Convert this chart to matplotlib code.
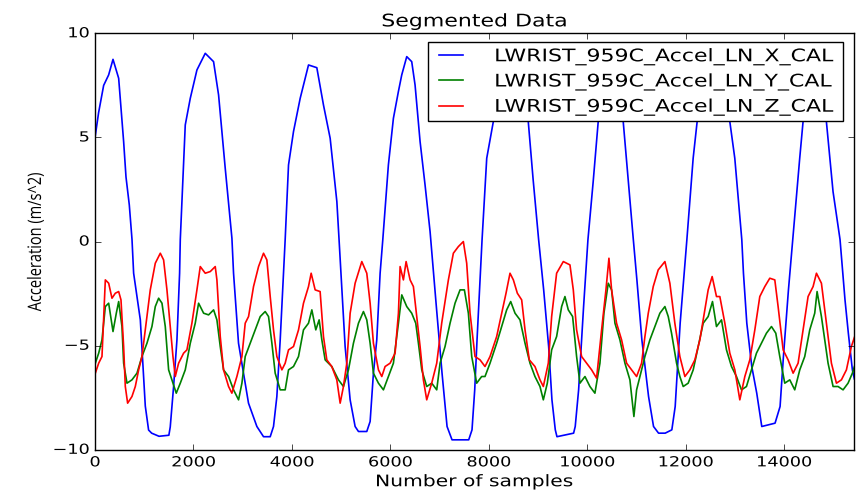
import matplotlib
matplotlib.use("Agg")
from matplotlib import pyplot as plt
from matplotlib import patheffects
from matplotlib.transforms import Affine2D

# values (sample index, m/s^2)
x_idx = [0, 73, 175, 276, 365, 480, 581, 629, 696, 751, 784, 920, 1021, 1088, 1150, 1300, 1500,
         1528, 1596, 1664, 1718, 1732, 1833, 1935, 2070, 2239, 2408, 2510, 2645, 2781, 2814, 2915,
         3017, 3118, 3288, 3423, 3559, 3626, 3694, 3762, 3829, 3863, 3931, 4032, 4168, 4337, 4506,
         4641, 4777, 4913, 4960, 5081, 5183, 5284, 5352, 5521, 5589, 5656, 5724, 5792, 5846, 5960,
         6062, 6163, 6231, 6333, 6434, 6502, 6604, 6705, 6807, 6930, 7050, 7152, 7253, 7592, 7659,
         7714, 7761, 7863, 7958, 8092, 8250, 8450, 8650, 8802, 8900, 9013, 9115, 9216, 9283, 9351,
         9385, 9723, 9756, 9825, 9926, 10014, 10121, 10223, 10330, 10450, 10600, 10731, 10934,
         11009, 11110, 11246, 11347, 11449, 11584, 11719, 11787, 11888, 12024, 12152, 12233, 12350,
         12500, 12700, 12897, 12998, 13140, 13174, 13242, 13343, 13444, 13546, 13816, 13918, 13986,
         14088, 14175, 14317, 14385, 14500, 14620, 14750, 14859, 14994, 15136, 15237, 15305, 15387,
         15428]
x_val = [5.0, 6.2, 7.5, 8.0, 8.75, 7.84, 4.8, 3.1, 1.76, 0.1, -1.52, -3.76, -7.9, -9.05, -9.2,
         -9.35, -9.3, -8.9, -6.96, -4.72, -1.52, 0.1, 5.6, 6.88, 8.24, 9.04, 8.64, 7.04, 3.52, 0.16,
         -1.52, -4.88, -6.32, -7.76, -8.88, -9.37, -9.37, -8.88, -7.44, -4.72, -1.52, 0.1, 3.68,
         5.28, 6.88, 8.48, 8.35, 6.56, 4.96, 1.92, 0.0, -5.04, -7.6, -8.88, -9.12, -9.12, -8.64,
         -6.32, -4.72, -1.52, 0.08, 3.68, 5.92, 7.2, 8.0, 8.88, 8.64, 7.52, 4.8, 2.72, 0.48, -3.0,
         -6.32, -8.88, -9.52, -9.52, -9.04, -7.12, -4.72, 0.08, 4.0, 5.76, 8.0, 8.8, 8.0, 5.76, 3.0,
         0.08, -2.32, -5.04, -7.6, -9.04, -9.37, -9.2, -8.88, -7.12, -3.12, 0.08, 2.88, 5.76, 7.8,
         8.6, 7.8, 5.76, 0.16, -1.84, -4.72, -7.44, -8.88, -9.2, -9.2, -9.04, -7.92, -3.92, 0.08,
         4.0, 5.76, 7.8, 8.6, 7.8, 5.76, 4.0, 0.1, -1.52, -3.92, -6.0, -7.28, -8.88, -8.72, -7.92,
         -5.52, -2.32, 0.08, 4.0, 5.76, 7.8, 8.6, 7.8, 5.76, 2.4, 0.1, -2.8, -4.4, -6.16, -6.6]

y_idx = [6, 74, 141, 209, 277, 365, 432, 480, 547, 581, 649, 750, 852, 953, 1055, 1156, 1224,
         1292, 1360, 1427, 1495, 1562, 1650, 1732, 1833, 1935, 2036, 2104, 2206, 2307, 2409, 2476,
         2544, 2611, 2713, 2814, 2916, 2984, 3051, 3153, 3254, 3356, 3457, 3525, 3593, 3660, 3762,
         3863, 3931, 4032, 4134, 4235, 4337, 4405, 4485, 4553, 4608, 4675, 4810, 4946, 5047, 5149,
         5250, 5352, 5453, 5521, 5589, 5656, 5758, 5859, 5961, 6062, 6164, 6232, 6333, 6434, 6516,
         6570, 6638, 6739, 6840, 6942, 7010, 7111, 7213, 7314, 7416, 7504, 7585, 7653, 7754, 7855,
         7923, 8025, 8160, 8262, 8363, 8445, 8533, 8634, 8736, 8837, 8938, 9040, 9108, 9189, 9277,
         9378, 9480, 9547, 9615, 9703, 9784, 9852, 9954, 10055, 10156, 10258, 10339, 10427, 10495,
         10563, 10664, 10766, 10867, 10948, 11003, 11070, 11172, 11273, 11375, 11476, 11578, 11646,
         11713, 11815, 11882, 11950, 12051, 12153, 12254, 12356, 12457, 12545, 12626, 12728, 12829,
         12931, 13032, 13134, 13235, 13337, 13438, 13540, 13641, 13743, 13831, 13912, 14013, 14115,
         14216, 14318, 14419, 14521, 14622, 14670, 14758, 14826, 14893, 14995, 15096, 15198, 15299,
         15387, 15428]
y_val = [-5.84, -5.36, -4.72, -3.12, -2.96, -4.32, -3.44, -2.88, -4.08, -5.84, -6.8, -6.64, -6.32,
         -5.52, -4.88, -4.08, -3.12, -2.72, -2.96, -4.08, -6.16, -6.64, -7.28, -6.8, -6.16, -4.88,
         -3.92, -2.96, -3.44, -3.52, -3.28, -3.76, -5.04, -6.16, -6.48, -7.12, -7.6, -6.8, -5.52,
         -4.88, -4.24, -3.6, -3.36, -3.6, -4.88, -6.32, -7.12, -7.12, -6.16, -6.0, -5.52, -4.24,
         -3.92, -3.28, -4.24, -3.76, -4.72, -5.68, -6.0, -6.64, -6.96, -6.16, -4.88, -3.92, -3.36,
         -3.76, -4.88, -6.32, -6.8, -7.12, -6.48, -5.84, -3.92, -2.56, -3.12, -3.44, -3.92, -4.88,
         -6.16, -6.96, -6.8, -7.12, -5.84, -5.04, -3.92, -2.96, -2.32, -2.32, -3.44, -5.52, -6.8,
         -6.48, -6.48, -5.84, -4.88, -4.08, -3.28, -2.88, -3.44, -3.76, -4.88, -5.84, -6.48, -6.96,
         -7.6, -6.8, -5.2, -4.56, -3.12, -2.64, -3.28, -3.6, -5.52, -6.8, -6.48, -6.96, -7.28, -5.84,
         -3.44, -2.0, -2.32, -3.92, -4.72, -5.84, -6.64, -8.4, -7.12, -6.48, -5.52, -4.72, -4.08,
         -3.44, -3.12, -3.6, -4.4, -5.84, -6.48, -6.96, -6.8, -6.16, -5.04, -3.92, -3.6, -2.88,
         -4.08, -3.76, -5.2, -6.0, -6.48, -7.12, -6.96, -6.16, -5.36, -4.88, -4.4, -4.08, -4.4,
         -5.52, -6.8, -6.64, -7.12, -6.16, -5.52, -4.24, -3.44, -2.4, -3.6, -4.72, -5.84, -6.96,
         -6.96, -7.12, -6.8, -6.32, -6.0]

z_idx = [6, 74, 141, 209, 277, 344, 412, 480, 527, 581, 615, 662, 750, 818, 886, 953, 1021, 1122,
         1224, 1326, 1393, 1461, 1528, 1583, 1630, 1698, 1799, 1867, 1968, 2070, 2138, 2239, 2341,
         2442, 2476, 2544, 2611, 2713, 2780, 2882, 2984, 3051, 3119, 3220, 3322, 3423, 3491, 3559,
         3626, 3694, 3796, 3863, 3931, 4032, 4134, 4235, 4337, 4391, 4472, 4573, 4641, 4709, 4810,
         4912, 4980, 5047, 5115, 5183, 5284, 5420, 5521, 5589, 5656, 5758, 5826, 5893, 5995, 6096,
         6164, 6198, 6265, 6320, 6401, 6468, 6536, 6604, 6671, 6739, 6840, 6942, 7043, 7179, 7280,
         7382, 7483, 7551, 7619, 7720, 7822, 7923, 8025, 8160, 8262, 8350, 8431, 8499, 8580, 8668,
         8736, 8823, 8938, 9040, 9108, 9209, 9277, 9378, 9514, 9649, 9717, 9784, 9886, 9987, 10089,
         10190, 10292, 10380, 10441, 10495, 10596, 10698, 10800, 10901, 11003, 11104, 11172, 11240,
         11341, 11442, 11578, 11679, 11780, 11882, 11984, 12085, 12187, 12288, 12390, 12457, 12538,
         12626, 12694, 12796, 12897, 12999, 13100, 13202, 13303, 13405, 13506, 13608, 13709, 13811,
         13878, 13980, 14081, 14183, 14284, 14386, 14487, 14589, 14657, 14758, 14860, 14961, 15063,
         15164, 15266, 15367, 15428]
z_val = [-6.32, -5.84, -5.52, -1.84, -2.0, -2.72, -2.48, -2.4, -2.8, -5.04, -6.96, -7.76, -7.44,
         -6.96, -6.16, -5.52, -4.24, -2.32, -1.04, -0.56, -0.88, -2.32, -4.08, -5.52, -6.48, -5.84,
         -5.36, -5.2, -3.92, -2.32, -1.2, -1.52, -1.44, -1.2, -1.84, -4.56, -6.16, -6.96, -7.28,
         -6.48, -5.52, -3.92, -3.6, -2.16, -1.2, -0.56, -0.88, -2.64, -4.24, -5.52, -6.16, -5.84,
         -5.2, -5.04, -4.24, -2.96, -2.16, -1.52, -2.32, -2.4, -4.56, -5.68, -6.0, -6.64, -7.76,
         -6.96, -5.84, -3.44, -2.0, -0.96, -1.52, -2.96, -4.88, -6.16, -6.48, -6.0, -5.84, -5.36,
         -3.44, -1.2, -1.84, -0.96, -1.84, -2.16, -3.6, -5.04, -6.64, -7.6, -6.8, -5.84, -3.92,
         -1.84, -0.56, -0.24, 0.0, -1.04, -3.44, -5.52, -5.68, -6.0, -5.52, -4.56, -3.44, -2.48,
         -1.52, -1.84, -2.48, -2.8, -4.24, -5.68, -6.0, -6.64, -6.96, -5.84, -3.6, -1.52, -0.96,
         -1.12, -2.32, -4.24, -5.52, -5.84, -6.16, -6.56, -4.24, -2.32, -0.8, -2.32, -3.92, -4.72,
         -5.84, -6.16, -6.48, -5.84, -4.56, -3.44, -2.16, -1.36, -0.96, -2.0, -3.92, -5.52, -6.48,
         -6.16, -5.68, -4.72, -3.28, -2.32, -1.68, -2.64, -2.64, -3.92, -5.36, -6.16, -7.6, -6.48,
         -5.68, -4.24, -2.64, -2.16, -1.76, -1.84, -3.12, -5.2, -5.68, -6.32, -5.84, -4.24, -2.64,
         -2.16, -1.52, -2.0, -3.92, -5.84, -6.8, -6.64, -6.16, -5.04, -4.6]

labels = ['LWRIST_959C_Accel_LN_X_CAL', 'LWRIST_959C_Accel_LN_Y_CAL', 'LWRIST_959C_Accel_LN_Z_CAL']
n_samples = 15430


class Widen(patheffects.AbstractPathEffect):
  # the reference text looks stretched sideways, so widen glyphs on screen
  def __init__(self, sx=1.27, anchor='center'):
    super().__init__()
    self.sx = sx
    self.anchor = anchor

  def draw_path(self, renderer, gc, tpath, affine, rgbFace=None):
    ext = tpath.get_extents()
    lx = {'left': 0.0, 'center': 0.5*(ext.x0 + ext.x1), 'right': ext.x1}[self.anchor]
    x0, y0 = affine.transform((lx, 0.0))
    t = affine + Affine2D().translate(-x0, -y0).scale(self.sx, 1.0).translate(x0, y0)
    renderer.draw_path(gc, tpath, t, rgbFace)


plt.style.use('classic')
plt.rcParams['figure.facecolor'] = 'white'
plt.rcParams['savefig.facecolor'] = 'white'

fig = plt.figure(figsize=(8.64, 4.9), dpi=100)
ax = fig.add_axes([0.110, 0.082, 0.879, 0.850])

ax.plot(x_idx, x_val, 'b-', lw=1.2, label=labels[0])
ax.plot(y_idx, y_val, 'g-', lw=1.2, label=labels[1])
ax.plot(z_idx, z_val, 'r-', lw=1.2, label=labels[2])

ax.set_xlim(0, n_samples)
ax.set_ylim(-10, 10)
ax.set_xticks([0, 2000, 4000, 6000, 8000, 10000, 12000, 14000])
ax.set_yticks([-10, -5, 0, 5, 10])
ax.tick_params(labelsize=10)

t = ax.set_title('Segmented Data', fontsize=12.5)
t.set_path_effects([Widen(anchor='center')])
t = ax.set_xlabel('Number of samples', fontsize=11.5, labelpad=3.5)
t.set_path_effects([Widen(anchor='center')])
t = ax.set_ylabel('Acceleration (m/s^2)', fontsize=10.5, family='Open Sans', labelpad=11)
t.set_path_effects([Widen(anchor='center')])

for lbl in ax.get_xticklabels():
  lbl.set_path_effects([Widen(anchor='center')])
for lbl in ax.get_yticklabels():
  lbl.set_path_effects([Widen(anchor='right')])

# legend box spans the top right of the axes, as in the reference
leg = ax.legend(loc='upper left', bbox_to_anchor=(0.4386, 0.0, 0.546, 0.979), mode='expand',
                borderaxespad=0.0, fontsize=12.5, borderpad=0.3, labelspacing=0.4,
                handlelength=2.0, handletextpad=1.5)
for lbl in leg.get_texts():
  lbl.set_path_effects([Widen(anchor='left')])

fig.savefig('out.png', dpi=100)
